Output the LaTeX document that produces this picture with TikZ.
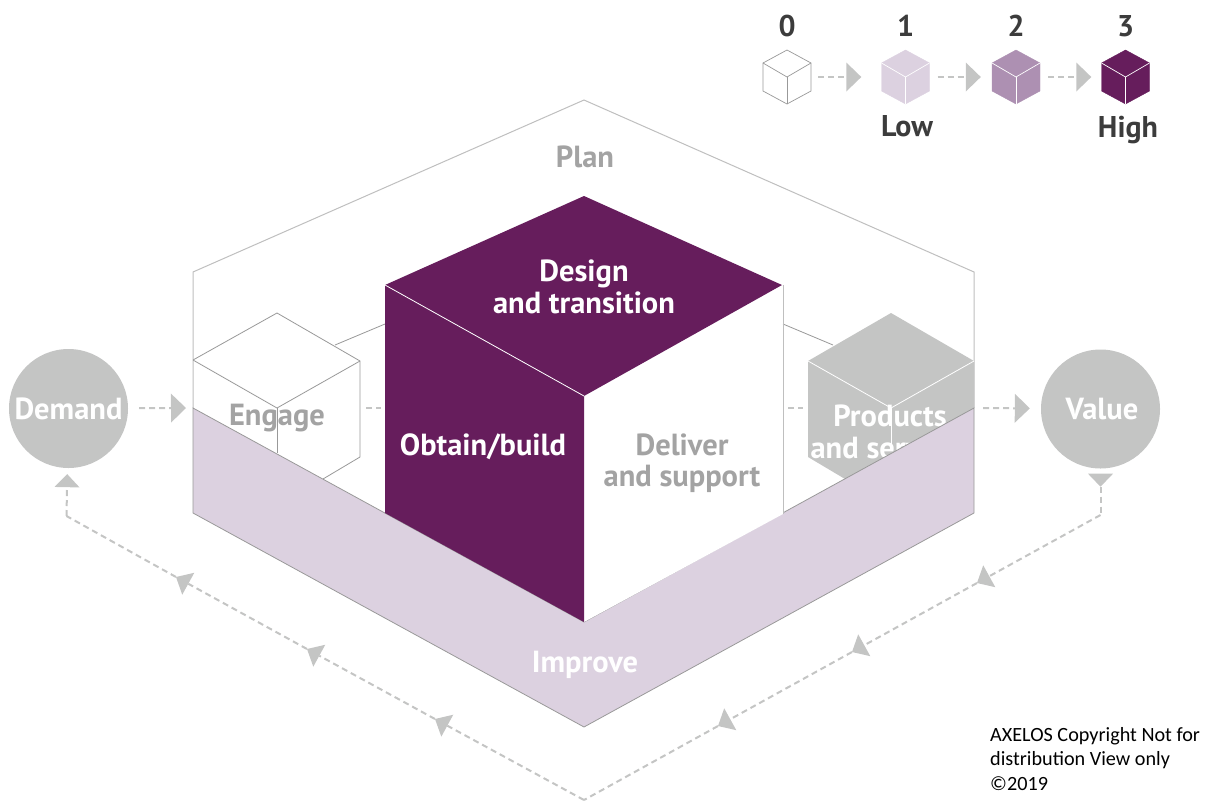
\documentclass[tikz,border=0pt]{standalone}
\usepackage{fontspec}
\setmainfont{PT Sans}
\newfontfamily\notefont{Carlito}
\usetikzlibrary{arrows.meta}
\definecolor{plum}{HTML}{661D5C}
\definecolor{plummid}{HTML}{AD90B2}
\definecolor{plumpale}{HTML}{DCD1E0}
\definecolor{ash}{HTML}{C4C5C4}
\definecolor{ashtext}{HTML}{A3A3A3}
\definecolor{ink}{HTML}{3C3C3C}
\begin{document}
\begin{tikzpicture}[
    x=1pt, y=-1pt,
    flow/.style={draw=ash, line width=2pt, dash pattern=on 6pt off 4pt},
    bigtip/.style={flow, -{Triangle[length=15pt,width=29pt,line width=0pt]}},
    smalltip/.style={flow, -{Triangle[length=14pt,width=25pt,line width=0pt]}},
    edge/.style={draw=black!40, line width=0.8pt},
    pale/.style={draw=black!25, line width=1pt},
    lbl/.style={font=\fontsize{30.5}{30.5}\selectfont\bfseries, inner sep=0pt, align=center},
    disc/.style={circle, fill=ash, minimum size=119pt, inner sep=0pt, lbl, text=white},
    tick/.style={font=\fontsize{30}{30}\selectfont\bfseries, text=ink, inner sep=0pt},
    spot/.style={minimum width=48pt, minimum height=53pt, inner sep=0pt}
]
\useasboundingbox (0,0) rectangle (1205,801);

% Plan
\draw[pale, fill=white] (193,408) -- (193,272) -- (584,100) -- (974,272) -- (974,408);
\node[lbl, text=ashtext] (plan) at (585,157) {Plan};

% Engage
\coordinate (engfront) at (277,408);
\draw[edge] (335,345) -- (385,324);
\draw[edge, fill=white] (193,360) -- (277,313) -- (360,361) -- (360,457) -- (323,479);
\draw[edge] (193,360) -- (engfront) -- (360,361);
\draw[edge] (engfront) -- (277,453);
\node[lbl, text=ashtext] (engage) at (277,418) {Engage};
\draw[flow] (366,408) -- (381,408);

% Products and services
\coordinate (prodfront) at (891,408);
\draw[edge] (783,324) -- (833,345);
\fill[ash] (808,361) -- (891,313) -- (974,361) -- (974,430) -- (845,500) -- (845,479) -- (808,457) -- cycle;
\draw[white, line width=0.8pt] (808,361) -- (prodfront) -- (974,361);
\draw[white, line width=0.8pt] (prodfront) -- (891,445);
\node[lbl, text=white] (products) at (890,432) {Products\\[1pt]and services};
\draw[flow] (788,408) -- (803,408);

% Improve
\draw[edge, fill=plumpale] (193,408) -- (584,622) -- (974,408) -- (974,513) -- (584,727) -- (193,513) -- cycle;
\node[lbl, text=white] (improve) at (585,665) {Improve};

% Cube central
\coordinate (ctop) at (584,196);
\coordinate (cleft) at (385,285);
\coordinate (cright) at (782,285);
\coordinate (cmid) at (584,396);
\coordinate (cbot) at (584,622);
\fill[white] (cmid) -- (cright) -- (783,514) -- (cbot) -- cycle;
\draw[pale] (783,285) -- (783,514);
\fill[plum] (cleft) -- (ctop) -- (cright) -- (cmid) -- cycle;
\fill[plum] (cleft) -- (cmid) -- (cbot) -- (385,513) -- cycle;
\draw[white, line width=0.8pt] (cleft) -- (cmid);
\node[lbl, text=white] (design) at (584,287) {Design\\[1pt]and transition};
\node[lbl, text=white] (obtain) at (483,447) {Obtain/build};
\node[lbl, text=ashtext] (deliver) at (682,463) {Deliver\\[1pt]and support};

% Demande et valeur
\node[disc] (demand) at (68.5,408.5) {Demand};
\node[disc] (value) at (1100.5,409) {\hspace*{3pt}Value};
\coordinate (bandin) at (186,408);
\coordinate (bandout) at (983,408);
\draw[bigtip, shorten <=11pt] (demand) -- (bandin);
\draw[bigtip, shorten >=11pt] (bandout) -- (value);

% Boucle
\coordinate (rcorner) at (1100.5,515);
\coordinate (r1) at (977,583);
\coordinate (r2) at (852,652);
\coordinate (r3) at (718,726);
\coordinate (lowest) at (584,800);
\coordinate (l3) at (435,719);
\coordinate (l2) at (307,649);
\coordinate (l1) at (176,577);
\coordinate (lcorner) at (66.5,516);
\draw[flow, {Triangle[reversed,length=13pt,width=25pt,line width=0pt]}-, shorten <=5pt] (value) -- (rcorner);
\draw[smalltip] (rcorner) -- (r1);
\draw[smalltip] (r1) -- (r2);
\draw[smalltip] (r2) -- (r3);
\draw[flow] (r3) -- (lowest);
\draw[smalltip] (lowest) -- (l3);
\draw[smalltip] (l3) -- (l2);
\draw[smalltip] (l2) -- (l1);
\draw[flow] (l1) -- (lcorner);
\draw[flow, -{Triangle[length=13pt,width=25pt,line width=0pt]}, shorten >=6pt] (lcorner) -- (demand);

% Niveaux
\foreach \i/\x/\col in {0/787/white, 1/905.5/plumpale, 2/1016/plummid, 3/1125.5/plum} {
    \node[spot] (cube\i) at (\x,77) {};
    \node[tick] (num\i) at (\x,26) {\i};
    \ifnum\i=0
        \def\wire{black!40}
    \else
        \def\wire{white}
    \fi
    \filldraw[fill=\col, draw=\col] (\x,50) -- ++(24,13) -- ++(0,28) -- ++(-24,13) -- ++(-24,-13) -- ++(0,-28) -- cycle;
    \draw[draw=\wire, line width=0.7pt] (\x-24,63) -- (\x,77) -- (\x+24,63);
    \draw[draw=\wire, line width=0.7pt] (\x,77) -- (\x,104);
    \ifnum\i=0
        \draw[draw=black!40, line width=0.7pt] (\x,50) -- ++(24,13) -- ++(0,28) -- ++(-24,13) -- ++(-24,-13) -- ++(0,-28) -- cycle;
    \fi
}
\draw[bigtip, shorten <=7pt, shorten >=20pt] (cube0.east) -- (cube1.west);
\draw[bigtip, shorten <=8pt, shorten >=11pt] (cube1.east) -- (cube2.west);
\draw[bigtip, shorten <=8pt, shorten >=10pt] (cube2.east) -- (cube3.west);
\node[tick] (low) at (907,126) {Low};
\node[tick] (high) at (1128,130) {High};

% Mention
\node[font=\notefont\fontsize{20.2}{24.5}\selectfont, anchor=north west, align=left, inner sep=0pt] (note) at (990,727) {AXELOS Copyright Not for\\distribution View only\\\textcopyright 2019};
\end{tikzpicture}
\end{document}
